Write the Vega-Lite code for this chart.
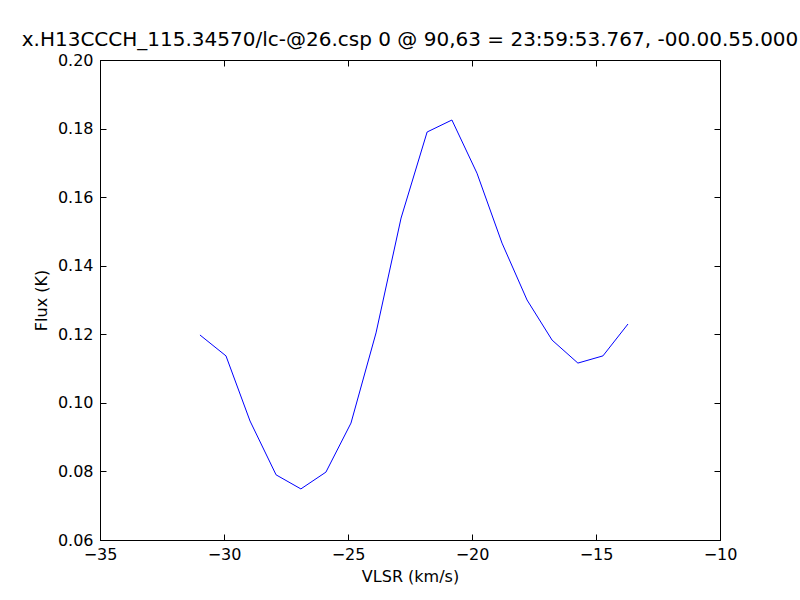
{
  "$schema": "https://vega.github.io/schema/vega-lite/v6.json",
  "width": 620,
  "height": 480,
  "autosize": {"type": "none"},
  "padding": {"left": 100, "top": 60, "right": 80, "bottom": 60},
  "background": "white",
  "config": {
    "font": "DejaVu Sans",
    "view": {"stroke": "black", "strokeWidth": 1},
    "axis": {
      "domainColor": "black",
      "tickColor": "black",
      "labelColor": "black",
      "titleColor": "black",
      "labelFont": "DejaVu Sans",
      "titleFont": "DejaVu Sans",
      "labelFontSize": 16,
      "titleFontSize": 16,
      "titleFontWeight": "normal",
      "grid": false,
      "tickSize": -6,
      "tickWidth": 1
    }
  },
  "title": {
    "text": "x.H13CCCH_115.34570/lc-@26.csp 0 @ 90,63 = 23:59:53.767, -00.00.55.000",
    "font": "DejaVu Sans",
    "fontSize": 20,
    "fontWeight": "normal",
    "color": "black",
    "anchor": "middle",
    "offset": 2
  },
  "data": {
    "values": [
      {"v": -30.97, "f": 0.1198},
      {"v": -29.92, "f": 0.1137},
      {"v": -28.95, "f": 0.0947},
      {"v": -27.90, "f": 0.0790},
      {"v": -26.90, "f": 0.0749},
      {"v": -25.89, "f": 0.0798},
      {"v": -24.88, "f": 0.0941},
      {"v": -23.87, "f": 0.1204},
      {"v": -22.86, "f": 0.1539},
      {"v": -21.81, "f": 0.1790},
      {"v": -20.81, "f": 0.1825},
      {"v": -19.80, "f": 0.1670},
      {"v": -18.79, "f": 0.1466},
      {"v": -17.78, "f": 0.1300},
      {"v": -16.77, "f": 0.1183},
      {"v": -15.73, "f": 0.1116},
      {"v": -14.72, "f": 0.1137},
      {"v": -13.71, "f": 0.1230}
    ]
  },
  "layer": [
    {
      "mark": {"type": "line", "color": "#0000ff", "strokeWidth": 1},
      "encoding": {
        "x": {
          "field": "v", "type": "quantitative",
          "scale": {"domain": [-35, -10], "nice": false, "zero": false},
          "axis": {"orient": "bottom", "title": "VLSR (km/s)", "values": [-35, -30, -25, -20, -15, -10], "labelPadding": 12, "titlePadding": 6, "labelExpr": "replace(datum.label, '-', '−')", "labelFlush": false}
        },
        "y": {
          "field": "f", "type": "quantitative",
          "scale": {"domain": [0.06, 0.2], "nice": false, "zero": false},
          "axis": {"orient": "left", "title": "Flux (K)", "values": [0.06, 0.08, 0.1, 0.12, 0.14, 0.16, 0.18, 0.2], "format": ".2f", "labelPadding": 13, "titlePadding": 8, "labelFlush": false}
        }
      }
    },
    {
      "mark": {"type": "line", "opacity": 0},
      "encoding": {
        "x": {
          "field": "v", "type": "quantitative",
          "scale": {"domain": [-35, -10], "nice": false, "zero": false},
          "axis": {"orient": "top", "title": null, "labels": false, "values": [-35, -30, -25, -20, -15, -10]}
        },
        "y": {
          "field": "f", "type": "quantitative",
          "scale": {"domain": [0.06, 0.2], "nice": false, "zero": false},
          "axis": {"orient": "right", "title": null, "labels": false, "values": [0.06, 0.08, 0.1, 0.12, 0.14, 0.16, 0.18, 0.2]}
        }
      }
    }
  ],
  "resolve": {"axis": {"x": "independent", "y": "independent"}}
}
